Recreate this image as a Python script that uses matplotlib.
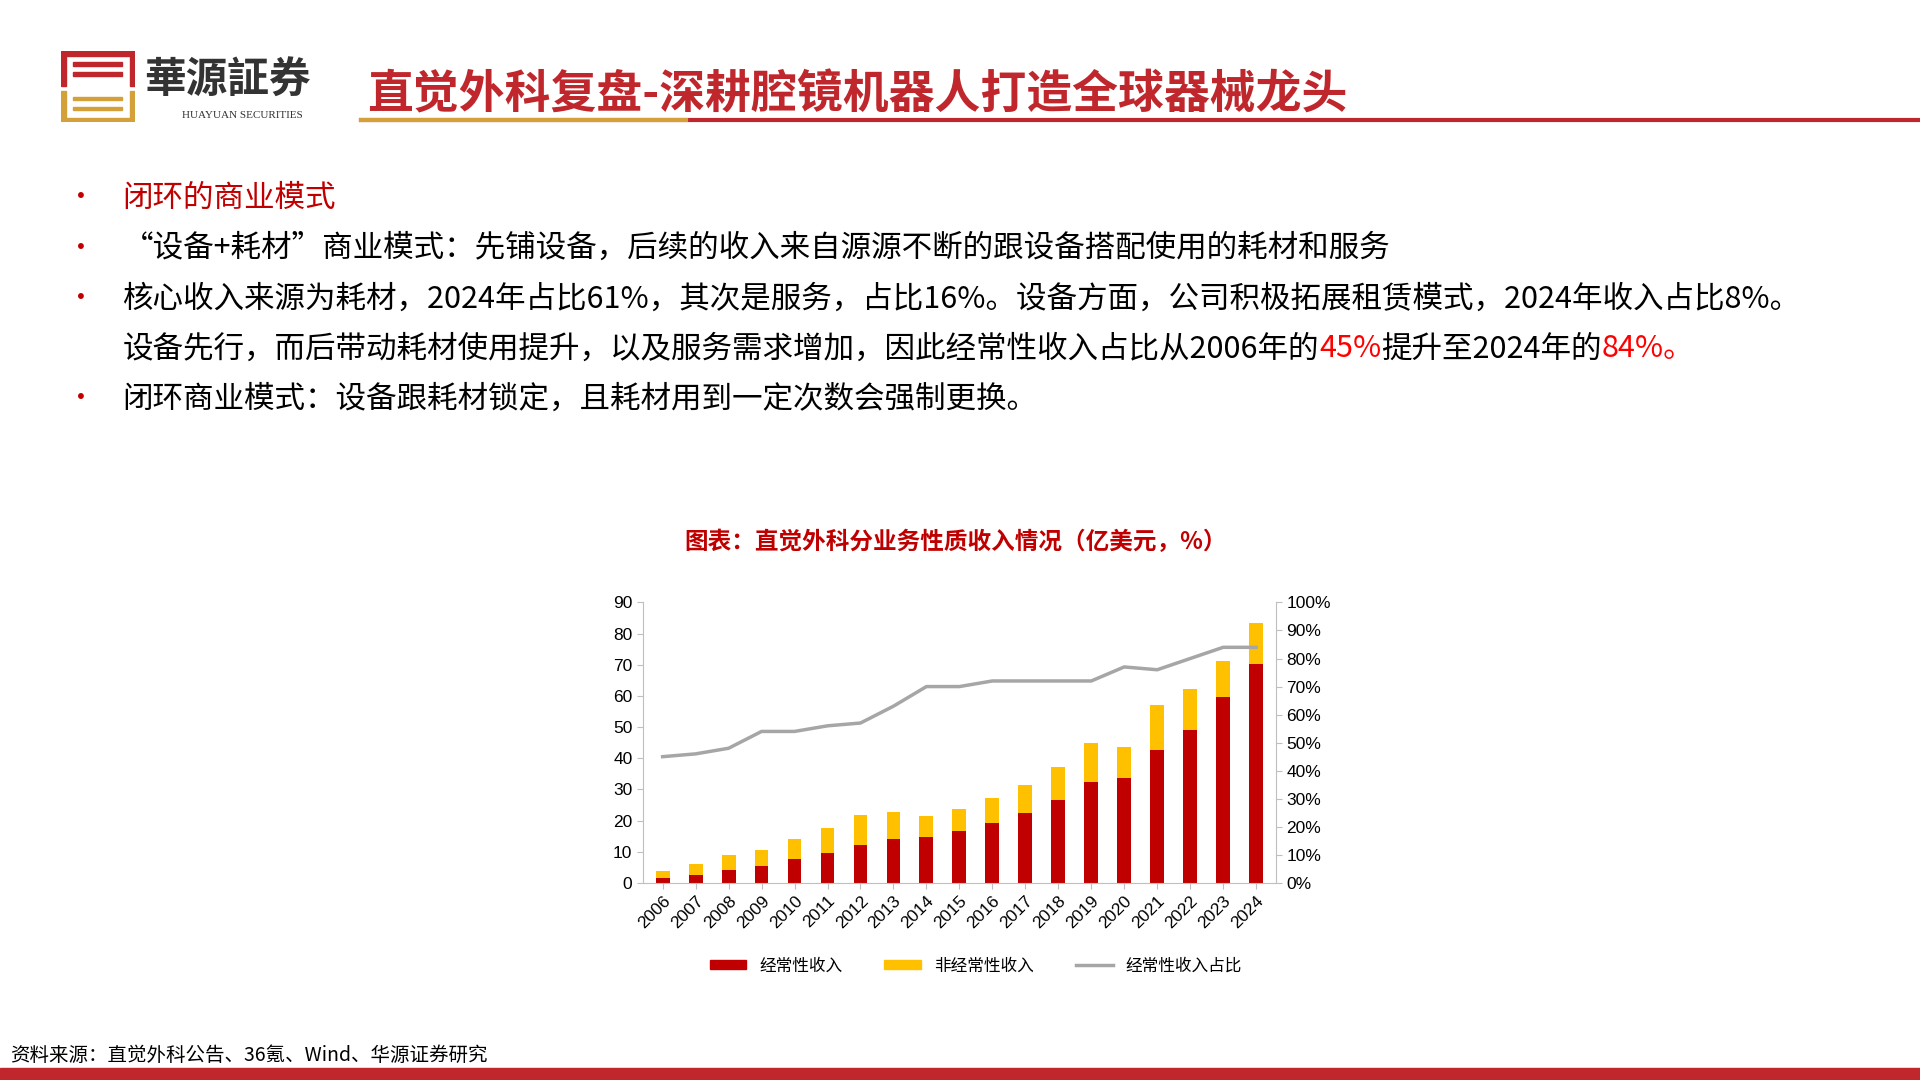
import matplotlib
matplotlib.use("Agg")
import matplotlib.pyplot as plt
from matplotlib.patches import Rectangle
from matplotlib.lines import Line2D
from matplotlib.ticker import FuncFormatter

plt.rcParams['font.family'] = ['Noto Sans CJK SC', 'DejaVu Sans']

years = [str(y) for y in range(2006, 2025)]
recurring = [1.5, 2.6, 4.0, 5.5, 7.5, 9.5, 12.2, 14.2, 14.8, 16.5, 19.2, 22.3,
             26.5, 32.3, 33.6, 42.8, 49.1, 59.5, 70.2]
total = [3.7, 6.0, 8.8, 10.5, 14.1, 17.6, 21.8, 22.7, 21.3, 23.8, 27.2, 31.3,
         37.2, 44.8, 43.6, 57.1, 62.2, 71.2, 83.5]
non_recurring = [t - r for t, r in zip(total, recurring)]
ratio = [45, 46, 48, 54, 54, 56, 57, 63, 70, 70, 72, 72, 72, 72, 77, 76, 80, 84, 84]

RED = '#C00000'
GOLD = '#FFC000'
GRAY = '#A6A6A6'
W, H = 1568, 882  # reference pixel frame


def fx(x):
    return x / W


def fy(y):
    return 1 - y / H


fig = plt.figure(figsize=(19.2, 10.8), dpi=100)

# header logo (rough)
logo = fig.add_axes([fx(50), fy(100), fx(60), 58 / H])
logo.set_xlim(0, 60)
logo.set_ylim(0, 58)
logo.axis('off')
logo.add_patch(Rectangle((0, 54), 60, 4, color='#C0272D'))
logo.add_patch(Rectangle((0, 30), 4, 24, color='#C0272D'))
logo.add_patch(Rectangle((56, 30), 4, 24, color='#C0272D'))
for yy in (46, 38):
    logo.add_patch(Rectangle((10, yy), 40, 3, color='#C0272D'))
logo.add_patch(Rectangle((0, 0), 60, 4, color='#D4A03A'))
logo.add_patch(Rectangle((0, 4), 4, 22, color='#D4A03A'))
logo.add_patch(Rectangle((56, 4), 4, 22, color='#D4A03A'))
for yy in (18, 10):
    logo.add_patch(Rectangle((10, yy), 40, 3, color='#D4A03A'))
fig.text(fx(118), fy(66), '華源証券', fontsize=30, fontweight='bold', color='#333333', va='center')
fig.text(fx(198), fy(94), 'HUAYUAN SECURITIES', fontsize=8, color='#333333', ha='center', va='center',
         family='Liberation Serif')
fig.text(fx(300), fy(78), '直觉外科复盘-深耕腔镜机器人打造全球器械龙头', fontsize=33,
         fontweight='bold', color='#C0272D', va='center')
fig.add_artist(Line2D([fx(295), 1], [fy(98), fy(98)], color='#C0272D', lw=3))
fig.add_artist(Line2D([fx(295), fx(560)], [fy(98), fy(98)], color='#D4A03A', lw=3))

# bullets
fig.canvas.draw()
renderer = fig.canvas.get_renderer()


def line_text(x, y, parts, size=22):
    cur = x
    for txt, col in parts:
        t = fig.text(cur, y, txt, fontsize=size, color=col, va='center')
        bb = t.get_window_extent(renderer)
        cur += bb.width / fig.bbox.width


rows = [
    (162, [('闭环的商业模式', RED)], True),
    (203, [('“设备+耗材”商业模式：先铺设备，后续的收入来自源源不断的跟设备搭配使用的耗材和服务', 'black')], True),
    (244, [('核心收入来源为耗材，2024年占比61%，其次是服务，占比16%。设备方面，公司积极拓展租赁模式，2024年收入占比8%。', 'black')], True),
    (285, [('设备先行，而后带动耗材使用提升，以及服务需求增加，因此经常性收入占比从2006年的', 'black'),
           ('45%', '#FF0000'), ('提升至2024年的', 'black'), ('84%。', '#FF0000')], False),
    (326, [('闭环商业模式：设备跟耗材锁定，且耗材用到一定次数会强制更换。', 'black')], True),
]
for y, parts, bullet in rows:
    if bullet:
        fig.text(fx(66), fy(y), '•', fontsize=20, color=RED, va='center', ha='center')
    line_text(fx(100), fy(y), parts)

# chart
fig.text(fx(780), fy(443), '图表：直觉外科分业务性质收入情况（亿美元，%）', fontsize=17,
         fontweight='bold', color=RED, ha='center', va='center')

ax = fig.add_axes([fx(525), fy(721), fx(1042 - 525), (721 - 492) / H])
x = range(len(years))
ax.bar(x, recurring, width=0.42, color=RED, zorder=2)
ax.bar(x, non_recurring, bottom=recurring, width=0.42, color=GOLD, zorder=2)
ax.set_ylim(0, 90)
ax.set_yticks(range(0, 91, 10))
ax.set_xlim(-0.6, len(years) - 0.4)
ax.set_xticks(list(x))
ax.set_xticklabels(years, rotation=45, ha='right', rotation_mode='anchor')
for s in ('top', 'right'):
    ax.spines[s].set_visible(False)
ax.spines['left'].set_color('#BFBFBF')
ax.spines['bottom'].set_color('#BFBFBF')
ax.tick_params(colors='#BFBFBF', labelcolor='black', labelsize=12.5, length=4)
for lab in ax.get_xticklabels() + ax.get_yticklabels():
    lab.set_family('Liberation Sans')

ax2 = ax.twinx()
ax2.plot(list(x), ratio, color=GRAY, lw=2.5, solid_joinstyle='round', zorder=3)
ax2.set_ylim(0, 100)
ax2.set_yticks(range(0, 101, 10))
ax2.yaxis.set_major_formatter(FuncFormatter(lambda v, p: f'{v:.0f}%'))
for s in ('top', 'left', 'bottom'):
    ax2.spines[s].set_visible(False)
ax2.spines['right'].set_color('#BFBFBF')
ax2.tick_params(colors='#BFBFBF', labelcolor='black', labelsize=12.5, length=4)
for lab in ax2.get_yticklabels():
    lab.set_family('Liberation Sans')

handles = [Rectangle((0, 0), 1, 1, color=RED), Rectangle((0, 0), 1, 1, color=GOLD),
           Line2D([], [], color=GRAY, lw=2.5)]
fig.legend(handles, ['经常性收入', '非经常性收入', '经常性收入占比'], loc='center',
           bbox_to_anchor=(fx(797), fy(789)), ncol=3, frameon=False, fontsize=12,
           handlelength=2.2, handleheight=0.5, columnspacing=2.5)

# footer
fig.text(fx(8), fy(862), '资料来源：直觉外科公告、36氪、Wind、华源证券研究', fontsize=14, va='center')
fig.add_artist(Rectangle((0, 0), 1, 10 / H, color='#C0272D', transform=fig.transFigure))

fig.savefig('out.png', dpi=100)
